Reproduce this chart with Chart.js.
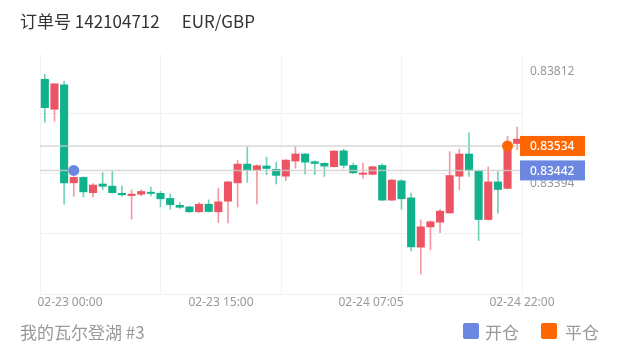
<!DOCTYPE html>
<html>
<head>
<meta charset="utf-8">
<script src="https://cdn.jsdelivr.net/npm/chart.js@4"></script>
<style>
  body { margin: 0; background: #fff; }
  #wrap { position: relative; width: 620px; height: 352px; font-family: "Noto Sans CJK SC", "Noto Sans", sans-serif; }
  #wrap canvas { position: absolute; left: 0; top: 0; }
  .txt { position: absolute; font-size: 17px; line-height: 17px; white-space: nowrap; }
  .sq { position: absolute; width: 16px; height: 16px; border-radius: 2px; }
</style>
</head>
<body>
<div id="wrap">
  <canvas id="chart" width="620" height="352"></canvas>
  <div class="txt" style="left:20px;top:12px;color:#333">订单号 142104712<span style="margin-left:22px">EUR/GBP</span></div>
  <div class="txt" style="left:20px;top:323px;color:#999">我的瓦尔登湖 #3</div>
  <span class="sq" style="left:463px;top:323px;background:#6b87e0"></span>
  <div class="txt" style="left:485px;top:323px;color:#999">开仓</div>
  <span class="sq" style="left:541px;top:323px;background:#ff6600"></span>
  <div class="txt" style="left:565px;top:323px;color:#999">平仓</div>
</div>
<script>
// K线数据 (按顺序, 每根一小时左右)
const opens  = [0.83786,0.83671,0.83765,0.83394,0.83417,0.83357,0.83392,0.83384,0.83357,0.83346,
                0.83351,0.83361,0.83357,0.83338,0.83312,0.83306,0.83285,0.83316,0.83285,0.83325,
                0.83394,0.83467,0.83442,0.83460,0.83447,0.83419,0.83476,0.83505,0.83476,0.83470,
                0.83455,0.83517,0.83462,0.83426,0.83426,0.83462,0.83329,0.83404,0.83340,0.83152,
                0.83228,0.83246,0.83281,0.83419,0.83505,0.83442,0.83256,0.83400,0.83373,0.83542];
const highs  = [0.83803,0.83770,0.83777,0.83418,0.83418,0.83392,0.83434,0.83438,0.83384,0.83369,
                0.83369,0.83379,0.83363,0.83354,0.83321,0.83307,0.83321,0.83331,0.83375,0.83401,
                0.83480,0.83530,0.83463,0.83492,0.83473,0.83483,0.83530,0.83506,0.83478,0.83471,
                0.83518,0.83522,0.83470,0.83470,0.83458,0.83467,0.83408,0.83407,0.83357,0.83256,
                0.83252,0.83296,0.83513,0.83522,0.83583,0.83443,0.83455,0.83438,0.83570,0.83605];
const lows   = [0.83624,0.83627,0.83315,0.83344,0.83342,0.83342,0.83369,0.83356,0.83344,0.83259,
                0.83346,0.83346,0.83305,0.83296,0.83299,0.83284,0.83284,0.83285,0.83246,0.83244,
                0.83304,0.83397,0.83316,0.83426,0.83391,0.83404,0.83451,0.83429,0.83426,0.83419,
                0.83454,0.83451,0.83429,0.83413,0.83425,0.83328,0.83328,0.83296,0.83139,0.83052,
                0.83143,0.83208,0.83280,0.83369,0.83419,0.83178,0.83255,0.83281,0.83372,0.83520];
const closes = [0.83677,0.83769,0.83394,0.83417,0.83360,0.83388,0.83381,0.83357,0.83349,0.83354,
                0.83364,0.83354,0.83334,0.83312,0.83302,0.83285,0.83316,0.83286,0.83325,0.83400,
                0.83467,0.83442,0.83461,0.83448,0.83422,0.83482,0.83505,0.83472,0.83467,0.83457,
                0.83516,0.83460,0.83432,0.83432,0.83457,0.83329,0.83407,0.83334,0.83153,0.83231,
                0.83250,0.83290,0.83424,0.83505,0.83442,0.83256,0.83400,0.83369,0.83532,0.83561];

// 坐标轴
const xTickLabels = ['02-23 00:00', '02-23 15:00', '02-24 07:05', '02-24 22:00'];
const xTickAt = [2.61, 18.28, 33.84, 49.5];
const xGridAt = [-0.5, 12, 24.5, 37, 49.5];
const yTickValues = [0.83812, 0.83394];
const yGridValues = [0.83656, 0.83429, 0.83203, 0.82977];
const yMin = 0.82977, yMax = 0.83880;

// 开仓 / 平仓: [K线序号, 价格]
const openPoint = [3, 0.83442];
const closePoint = [48, 0.83534];

const UP = '#ec5464', DOWN = '#10b28c';
const UP_WICK = 'rgba(236,84,100,0.6)', DOWN_WICK = 'rgba(16,178,140,0.6)';
const BLUE = '#6b87e0', ORANGE = '#ff6600';

const isUp = i => closes[i] >= opens[i];

// 右侧价格标签
const priceTags = {
  id: 'priceTags',
  afterDraw(chart) {
    const ctx = chart.ctx;
    const y = chart.scales.y;
    const x0 = chart.chartArea.right - 2;
    [[closePoint[1], ORANGE], [openPoint[1], BLUE]].forEach(([p, col]) => {
      const py = y.getPixelForValue(p);
      ctx.save();
      ctx.fillStyle = col;
      ctx.fillRect(x0, py - 10, 65, 20);
      ctx.fillStyle = '#fff';
      ctx.font = '500 12px "Noto Sans", sans-serif';
      ctx.textBaseline = 'middle';
      ctx.fillText(p.toFixed(5), x0 + 10, py + 1);
      ctx.restore();
    });
  }
};

Chart.defaults.font.family = '"Noto Sans", "Noto Sans CJK SC", sans-serif';

const xTicksAll = Array.from(new Set([...xGridAt, ...xTickAt]));

new Chart(document.getElementById('chart'), {
  type: 'bar',
  data: {
    datasets: [
      {
        label: 'wick',
        data: lows.map((l, i) => ({ x: i, y: [l, highs[i]] })),
        backgroundColor: lows.map((_, i) => isUp(i) ? UP_WICK : DOWN_WICK),
        barThickness: 1,
        grouped: false,
        order: 3
      },
      {
        label: 'body',
        data: opens.map((o, i) => ({ x: i, y: [o, closes[i]] })),
        backgroundColor: opens.map((_, i) => isUp(i) ? UP : DOWN),
        categoryPercentage: 1,
        barPercentage: 0.84,
        minBarLength: 2,
        borderSkipped: false,
        grouped: false,
        order: 2
      },
      {
        type: 'line',
        label: 'close level',
        data: [{ x: -0.5, y: closePoint[1] }, { x: 49.5, y: closePoint[1] }],
        borderColor: 'rgba(205,205,205,0.8)',
        borderWidth: 1.5,
        pointRadius: 0,
        order: 1
      },
      {
        type: 'line',
        label: 'open level',
        data: [{ x: -0.5, y: openPoint[1] }, { x: 49.5, y: openPoint[1] }],
        borderColor: 'rgba(205,205,205,0.8)',
        borderWidth: 1.5,
        pointRadius: 0,
        order: 1
      },
      {
        type: 'scatter',
        label: '开仓',
        data: [{ x: openPoint[0], y: openPoint[1] }],
        backgroundColor: BLUE,
        borderWidth: 0,
        pointRadius: 5.5,
        order: 0
      },
      {
        type: 'scatter',
        label: '平仓',
        data: [{ x: closePoint[0], y: closePoint[1] }],
        backgroundColor: ORANGE,
        borderWidth: 0,
        pointRadius: 5.5,
        order: 0
      }
    ]
  },
  options: {
    responsive: false,
    animation: false,
    layout: { padding: { left: 40, top: 54, right: 0, bottom: 0 } },
    plugins: { legend: { display: false }, tooltip: { enabled: false } },
    scales: {
      x: {
        type: 'linear',
        min: -0.5,
        max: 49.5,
        offset: false,
        position: 'bottom',
        grid: {
          offset: false,
          drawTicks: false,
          color: c => (c.tick && xGridAt.includes(c.tick.value)) ? '#f2f2f2' : 'rgba(0,0,0,0)'
        },
        border: { display: false },
        afterBuildTicks: axis => { axis.ticks = xTicksAll.map(v => ({ value: v })); },
        afterFit: axis => { axis.height = 58; },
        ticks: {
          autoSkip: false,
          maxRotation: 0,
          padding: 1,
          color: '#999',
          font: { size: 12 },
          callback: v => {
            const k = xTickAt.indexOf(v);
            return k >= 0 ? xTickLabels[k] : '';
          }
        }
      },
      y: {
        type: 'linear',
        position: 'right',
        min: yMin,
        max: yMax,
        grid: { display: false, drawTicks: false },
        border: { display: false },
        afterBuildTicks: axis => { axis.ticks = yTickValues.map(v => ({ value: v })); },
        afterFit: axis => { axis.width = 98; },
        ticks: {
          padding: 8,
          color: '#999',
          font: { size: 12 },
          callback: v => v.toFixed(5)
        }
      },
      yg: {
        type: 'linear',
        position: 'left',
        min: yMin,
        max: yMax,
        grid: { color: '#f0f0f0', drawTicks: false },
        border: { display: false },
        ticks: { display: false },
        afterBuildTicks: axis => { axis.ticks = yGridValues.map(v => ({ value: v })); },
        afterFit: axis => { axis.width = 0; }
      }
    }
  },
  plugins: [priceTags]
});
</script>
</body>
</html>
